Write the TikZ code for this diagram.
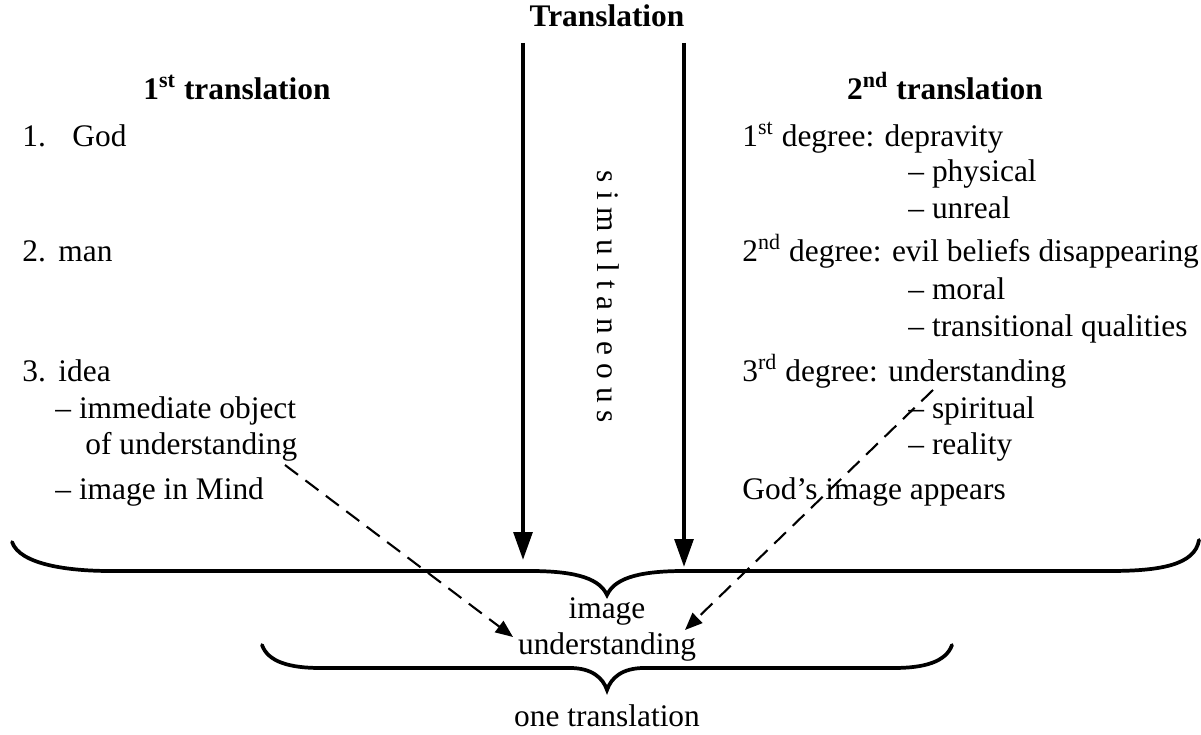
\documentclass[tikz,border=0pt]{standalone}
\usepackage{fontspec}
\setmainfont{Liberation Serif}
\usetikzlibrary{arrows.meta}

\tikzstyle{entry}=[anchor=west,inner sep=0pt,text height=1.6ex,text depth=.4ex,font=\fontsize{13.5}{16}\selectfont]
\tikzstyle{heading}=[inner sep=0pt,text height=1.6ex,text depth=.4ex,font=\fontsize{13.5}{16}\selectfont\bfseries]
\tikzstyle{label}=[inner sep=0pt,text height=1.6ex,text depth=.4ex,font=\fontsize{13.5}{16}\selectfont]
\tikzstyle{flow}=[draw,line width=1.7pt,-{Triangle[length=12pt,width=8pt]}]
\tikzstyle{link}=[draw,line width=0.9pt,dash pattern=on 7pt off 4pt,-{Triangle[length=7.5pt,width=6pt]}]
\tikzstyle{brace}=[draw,line width=1.6pt,line cap=round]

\begin{document}
\begin{tikzpicture}[x=0.43pt,y=-0.43pt]
\useasboundingbox (0,0) rectangle (1201,735);
\node[heading] (title) at (607,20) {Translation};
\node[heading] (first) at (237,93) {1\textsuperscript{st} translation};
\node[heading] (second) at (945,93) {2\textsuperscript{nd} translation};
% first translation
\foreach \y/\num/\x/\word in {140/1./72/God, 255/2./58/man, 375/3./58/idea}{
  \node[entry] (num\y) at (22,\y) {\num};
  \node[entry] (word\y) at (\x,\y) {\word};
}
\node[entry] (immediate) at (55,412) {-- immediate object};
\node[entry] (ofunder) at (85,448) {of understanding};
\node[entry] (inmind) at (55,493) {-- image in Mind};
% second translation
\foreach \y/\deg/\ord/\what in {140/1/st/depravity, 255/2/nd/evil beliefs disappearing,
                                375/3/rd/understanding}{
  \node[entry] (deg\y) at (742,\y) {\deg\textsuperscript{\ord} degree: \what};
}
\foreach \y/\what in {175/physical, 212/unreal, 293/moral, 330/transitional qualities,
                      412/spiritual, 448/reality}{
  \node[entry] (sub\y) at (908,\y) {-- \what};
}
\node[entry] (appears) at (742,493) {God's image appears};
% middle
\node[label,rotate=-90] (simul) at (604,297) {s i m u l t a n e o u s};
\coordinate (ltop) at (523,43);
\coordinate (lend) at (523,560);
\coordinate (rtop) at (684,43);
\coordinate (rend) at (684,567);
\path[flow] (ltop) -- (lend);
\path[flow] (rtop) -- (rend);
\path[brace] (12,542) .. controls (20,565) and (70,571) .. (110,571) -- (530,571)
  .. controls (580,571) and (600,580) .. (607,595)
  .. controls (614,580) and (634,571) .. (684,571) -- (1110,571)
  .. controls (1160,571) and (1195,565) .. (1199,540);
\node[label] (image) at (607,612) {image};
\node[label] (under) at (607,648) {understanding};
\path[brace] (262,645) .. controls (268,662) and (290,668) .. (320,668) -- (570,668)
  .. controls (592,668) and (603,678) .. (607,690)
  .. controls (611,678) and (622,668) .. (644,668) -- (894,668)
  .. controls (924,668) and (946,662) .. (952,645);
\node[label] (one) at (607,720) {one translation};
\coordinate (lstart) at (285,465);
\coordinate (lstop) at (513,637);
\coordinate (rstart) at (933,390);
\coordinate (rstop) at (685,630);
\path[link] (lstart) -- (lstop);
\path[link] (rstart) -- (rstop);
\end{tikzpicture}
\end{document}
